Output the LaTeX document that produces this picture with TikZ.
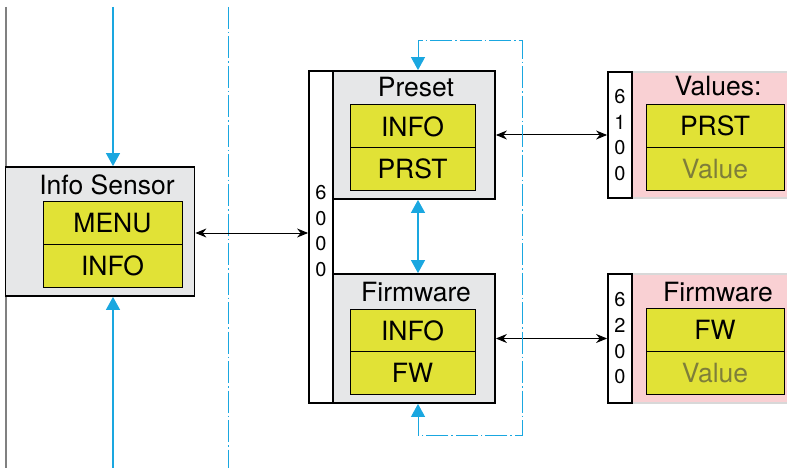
\documentclass[tikz,border=0pt]{standalone}
\usepackage{fontspec}
\setmainfont{TeX Gyre Heros}
\usepackage{tikz}
\usetikzlibrary{arrows.meta, positioning, calc}

\definecolor{panelgrey}{HTML}{E6E7E8}
\definecolor{fieldyellow}{HTML}{E1E236}
\definecolor{valpink}{HTML}{F9D0D3}
\definecolor{pinkline}{HTML}{D8D8D8}
\definecolor{linkblue}{HTML}{1AA7E0}
\definecolor{valuetext}{HTML}{7E7E3A}

\tikzset{
  panel/.style={draw, line width=1.8pt, fill=panelgrey, minimum width=162pt, inner sep=0pt},
  valpanel/.style={draw=pinkline, line width=1.2pt, fill=valpink, inner sep=0pt},
  idcol/.style={draw, line width=1.8pt, fill=white, minimum width=24pt, inner sep=0pt,
    align=center, font=\fontsize{20}{25.7}\selectfont},
  field/.style={draw, line width=1pt, fill=fieldyellow, inner sep=0pt, minimum height=43pt,
    text height=19pt, text depth=0pt, font=\fontsize{26.5}{30}\selectfont},
  title/.style={anchor=base, inner sep=0pt, font=\fontsize{26.5}{30}\selectfont},
  link/.style={{Stealth[length=11pt, width=9pt]}-{Stealth[length=11pt, width=9pt]}, line width=1pt},
  bluelink/.style={linkblue, line width=1.1pt},
  loopline/.style={linkblue, line width=0.9pt, dash pattern=on 22pt off 3pt on 1.5pt off 3pt},
  bluetip/.tip={Triangle[length=13pt, width=14pt]}
}

\begin{document}
\begin{tikzpicture}[x=1pt, y=-1pt]
  \useasboundingbox (0,0) rectangle (787,468);

  % Frame lines
  \draw[gray, line width=1.4pt] (6,7) -- (6,468);
  \draw[loopline] (228,7) -- (228,468);

  % Info Sensor
  \node[panel, minimum width=189pt, minimum height=129pt] (info) at (100,231.5) {};
  \node[title] (infot) at (107,194) {Info Sensor};
  \node[field, minimum width=139pt] (menu) at (112.5,222.5) {MENU};
  \node[field, minimum width=139pt] (infoi) at (112.5,265.5) {INFO};
  \coordinate (intop) at (113,7);
  \coordinate (inbot) at (113,468);
  \draw[bluelink, -bluetip] (intop) -- (intop |- info.north);
  \draw[bluelink, -bluetip] (inbot) -- (inbot |- info.south);

  % 6000 column with Preset and Firmware
  \node[idcol, minimum height=332pt] (c60) at (321,237) {};
  \node[idcol, draw=none, fill=none] (d60) at (321,231) {6\\0\\0\\0};
  \node[panel, minimum height=128pt] (pre) at (414,135) {};
  \node[title] (pret) at (416,97) {Preset};
  \node[field, minimum width=125pt] (preinfo) at (412.5,126.5) {INFO};
  \node[field, minimum width=125pt] (prst) at (412.5,169) {PRST};
  \node[panel, minimum height=129pt] (fw) at (414,338.5) {};
  \node[title] (fwt) at (416,301) {Firmware};
  \node[field, minimum width=125pt] (fwinfo) at (412.5,330.5) {INFO};
  \node[field, minimum width=125pt] (fwfw) at (412.5,373) {FW};

  % 6100 Values
  \node[valpanel, minimum width=158pt, minimum height=126pt] (val) at (711,135) {};
  \node[idcol, minimum height=126pt] (c61) at (620,135) {6\\1\\0\\0};
  \node[title] (valt) at (718,96) {Values:};
  \node[field, minimum width=138pt] (valprst) at (715,126) {PRST};
  \node[field, minimum width=138pt, text=valuetext] (valv) at (715,169) {Value};

  % 6200 Firmware
  \node[valpanel, minimum width=158pt, minimum height=129pt] (fwv) at (711,338.5) {};
  \node[idcol, minimum height=129pt] (c62) at (620,338.5) {6\\2\\0\\0};
  \node[title] (fwvt) at (718,301) {Firmware};
  \node[field, minimum width=138pt] (fwvfw) at (715,330) {FW};
  \node[field, minimum width=138pt, text=valuetext] (fwvv) at (715,372.5) {Value};

  % Links
  \draw[link] (info.east |- 0,233) -- (c60.west |- 0,233);
  \draw[link] (pre.east) -- (c61.west);
  \draw[link] (fw.east) -- (c62.west);

  % Blue loop between Preset and Firmware
  \coordinate (lpa) at (418,40);
  \coordinate (lpb) at (522,40);
  \coordinate (lpc) at (522,435);
  \coordinate (lpd) at (418,435);
  \draw[bluelink, bluetip-bluetip] (pre.south -| lpa) -- (fw.north -| lpa);
  \draw[loopline, bluetip-bluetip] (pre.north -| lpa) -- (lpa) -- (lpb) -- (lpc) -- (lpd) -- (fw.south -| lpd);
\end{tikzpicture}
\end{document}
